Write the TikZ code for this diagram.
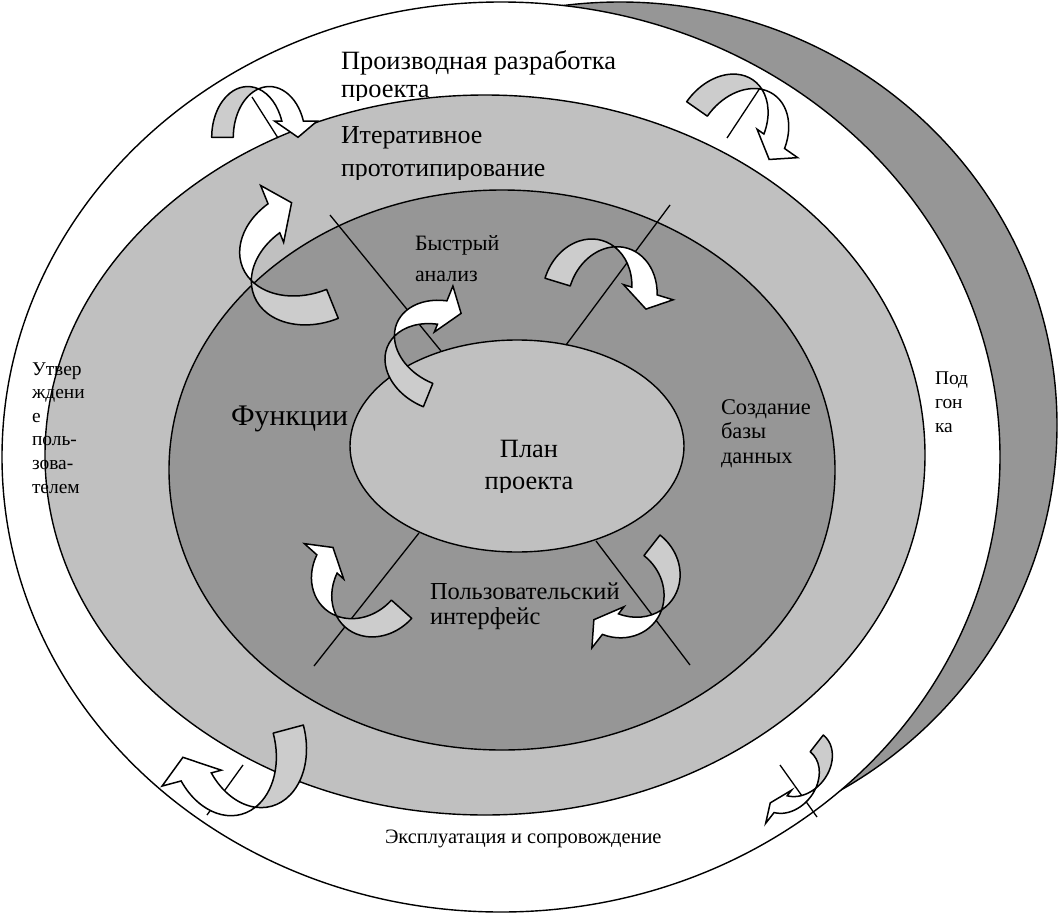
\documentclass[tikz,border=0pt]{standalone}
\usepackage{fontspec}
\setmainfont{Liberation Serif}
\definecolor{ringdark}{HTML}{969696}
\definecolor{ringlight}{HTML}{C0C0C0}
\definecolor{tailgray}{HTML}{CCCCCC}
% Twisted ribbon arrow: tail (back face) on the left, head (front face) on the right.
% #1 origin, #2 rotation, #3 scale, #4 arch height ratio, #5 ribbon width
\newcommand\ribbonarrow[5]{%
  \begin{scope}[shift={#1},rotate=#2,scale=#3,yscale=-1]
    \pgfmathsetmacro\rbA{acos(#5/2)}
    \pgfmathsetmacro\rbB{180-\rbA}
    \pgfmathsetmacro\rbC{#4*sin(\rbA)}
    \pgfmathsetmacro\rbE{cos(18.6)}
    \pgfmathsetmacro\rbH{#4*sin(18.6)}
    \filldraw[ribtail] (-1,0)
      arc[start angle=180,end angle=\rbA,x radius=1,y radius=#4]
      arc[start angle=\rbB,end angle=180,x radius=1,y radius=#4] -- cycle;
    \filldraw[ribhead] (#5/2,\rbC)
      arc[start angle=\rbB,end angle=18.6,x radius=1,y radius=#4]
      -- ++(0.38,0) -- (\rbE+#5/2+0.15,0) -- (\rbE-0.2,\rbH) -- (\rbE,\rbH)
      arc[start angle=18.6,end angle=\rbA,x radius=1,y radius=#4] -- cycle;
  \end{scope}}
\begin{document}
\begin{tikzpicture}[x=1bp,y=-1bp,
  ring/.style={draw=black,line width=1.4bp},
  divider/.style={draw=black,line width=1.3bp},
  ribtail/.style={fill=tailgray,draw=black,line width=1.5bp,line join=round},
  ribhead/.style={fill=white,draw=black,line width=1.5bp,line join=miter},
  lbl/.style={inner sep=0pt,outer sep=0pt,align=left,anchor=base west,text=black}]
\useasboundingbox (0,0) rectangle (1058,914);
\fill[white] (0,0) rectangle (1058,914);

% back crescent and outer band
\filldraw[ring,fill=ringdark] (620,425) ellipse [x radius=437,y radius=423];
\filldraw[ring,fill=white] (501,457) ellipse [x radius=499,y radius=455];

% text boxes cut off at their lower edge
\begin{scope}
  \clip (330,30) rectangle (640,100);
  \node[lbl,font=\fontsize{26.5}{28}\selectfont] (derived) at (341,97)
    {Производная разработка\\проекта};
\end{scope}

% prototyping ring, inner ring and core
\filldraw[ring,fill=ringlight] (485,455) ellipse [x radius=440,y radius=360];
\filldraw[ring,fill=ringdark] (502,470) ellipse [x radius=333,y radius=280];
\filldraw[ring,fill=ringlight] (517,446) ellipse [x radius=167,y radius=106];

% sector dividers
\coordinate (d1a) at (330,215); \coordinate (d1b) at (441,351);
\coordinate (d2a) at (670,205); \coordinate (d2b) at (566,345);
\coordinate (d3a) at (419,533); \coordinate (d3b) at (314,666);
\coordinate (d4a) at (596,541); \coordinate (d4b) at (690,665);
\draw[divider] (d1a) -- (d1b);
\draw[divider] (d2a) -- (d2b);
\draw[divider] (d3a) -- (d3b);
\draw[divider] (d4a) -- (d4b);

% ticks across the outer band
\coordinate (t1a) at (252,97);  \coordinate (t1b) at (278,138);
\coordinate (t2a) at (760,88);  \coordinate (t2b) at (727,138);
\coordinate (t3a) at (243,765); \coordinate (t3b) at (207,815);
\coordinate (t4a) at (780,765); \coordinate (t4b) at (817,817);
\draw[divider] (t1a) -- (t1b);
\draw[divider] (t2a) -- (t2b);
\draw[divider] (t3a) -- (t3b);
\draw[divider] (t4a) -- (t4b);

% cycle arrows
\ribbonarrow{(247.7,137.3)}{0}{36}{1.41}{0.6}
\ribbonarrow{(721.1,125.8)}{-35}{42}{1.33}{0.6}
\ribbonarrow{(318.8,270.1)}{112}{52}{1.34}{0.6}
\ribbonarrow{(439.1,367.8)}{68}{42}{1.33}{0.6}
\ribbonarrow{(587.1,291.1)}{-17}{44}{1.2}{0.6}
\ribbonarrow{(379,588.9)}{138}{44}{1.16}{0.62}
\ribbonarrow{(632.3,570.5)}{-128}{45}{1.1}{0.58}
\ribbonarrow{(253.1,738.5)}{-165}{52}{1.35}{0.6}
\ribbonarrow{(801.1,763.4)}{-128}{36}{0.78}{0.59}

% labels
\begin{scope}
  \clip (330,110) rectangle (600,179);
  \node[lbl,font=\fontsize{26}{33}\selectfont] (iter) at (341,176)
    {Итеративное\\прототипирование};
\end{scope}
\node[lbl,font=\fontsize{22}{31}\selectfont] (quick) at (415,281)
  {Быстрый\\анализ};
\node[lbl,font=\fontsize{30}{32}\selectfont] (func) at (231,425) {Функции};
\begin{scope}
  \clip (460,420) rectangle (600,492);
  \node[lbl,align=center,anchor=base,font=\fontsize{26.5}{32}\selectfont] (plan) at (529,489)
    {План\\проекта};
\end{scope}
\node[lbl,font=\fontsize{22.5}{24.5}\selectfont] (db) at (721,463)
  {Создание\\базы\\данных};
\node[lbl,font=\fontsize{24.5}{25}\selectfont] (ui) at (430,624)
  {Пользовательский\\интерфейс};
\node[lbl,font=\fontsize{19.5}{24}\selectfont] (fit) at (935,432)
  {Под\\гон\\ка};
\node[lbl,font=\fontsize{19.5}{23.6}\selectfont] (approve) at (32,493)
  {Утвер\\ждени\\е\\поль-\\зова-\\телем};
\node[lbl,font=\fontsize{20.5}{22}\selectfont] (ops) at (385,843)
  {Эксплуатация и сопровождение};
\end{tikzpicture}
\end{document}
